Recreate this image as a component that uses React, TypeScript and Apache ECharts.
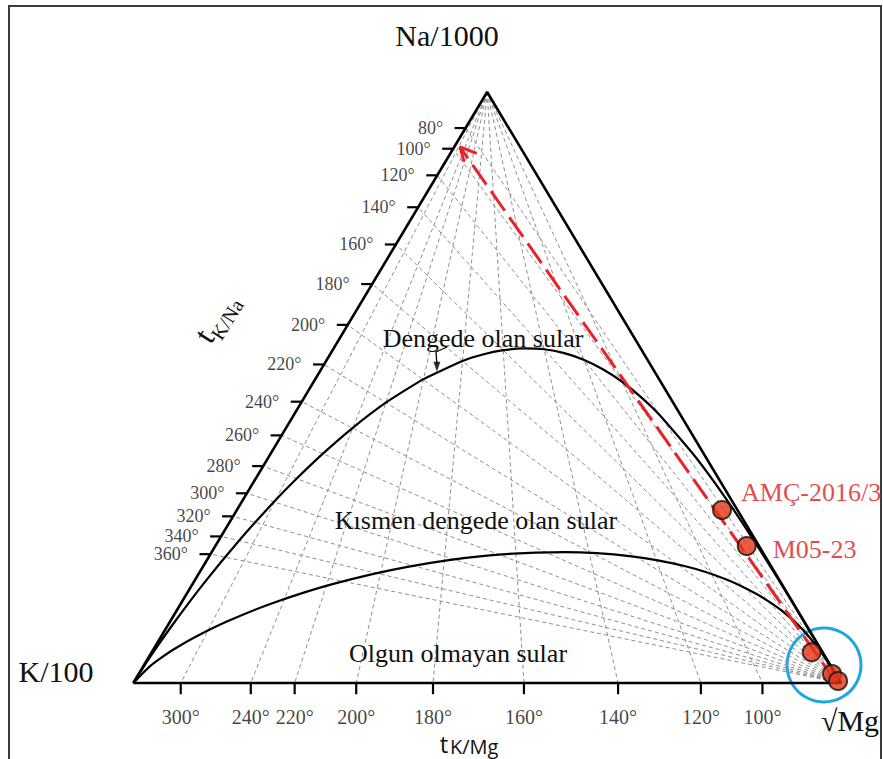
import React, { useEffect, useRef } from "react";
import * as echarts from "echarts";

// ---- data (diagram units: K=(0,0), √Mg=(100,0), Na=(50,100)) ----
const kNaTemps = [80, 100, 120, 140, 160, 180, 200, 220, 240, 260, 280, 300, 320, 340, 360];
// position of each tK/Na tick along the K -> Na edge (0 = K, 1 = Na)
const kNaEdge = [0.939, 0.904, 0.859, 0.805, 0.742, 0.675, 0.606, 0.539, 0.476, 0.419, 0.367, 0.321, 0.282, 0.248, 0.218];
const kMgTemps = [300, 240, 220, 200, 180, 160, 140, 120, 100];
// position of each tK/Mg tick along the K -> √Mg edge (0 = K, 1 = √Mg)
const kMgEdge = [0.067, 0.166, 0.228, 0.315, 0.4235, 0.552, 0.685, 0.802, 0.889];

const fullEqX = [100, 96.0, 92.15, 88.42, 84.11, 79.39, 74.4, 71.82, 69.17, 66.47, 63.71, 60.9, 58.05, 55.17, 52.28, 49.38, 46.52, 40.95, 35.73, 30.97, 26.75, 23.06, 19.89, 14.9, 9.96, 5.63, 2.45, 0];
const fullEqY = [0, 7.9, 15.58, 22.73, 30.57, 38.32, 45.3, 48.29, 50.89, 53.01, 54.66, 55.81, 56.47, 56.61, 56.31, 55.58, 54.49, 51.38, 47.47, 43.14, 38.77, 34.56, 30.67, 24.03, 16.85, 9.98, 4.54, 0];

const immatureX = [100, 97.85, 96.64, 94.6, 93.02, 90.86, 87.87, 83.72, 78.01, 70.41, 60.91, 50.0, 38.75, 28.4, 19.84, 13.38, 8.82, 5.74, 3.73, 2.41, 0];
const immatureY = [0, 4.09, 6.11, 9.01, 10.84, 12.93, 15.19, 17.57, 19.76, 21.43, 22.14, 21.55, 19.66, 16.82, 13.59, 10.48, 7.82, 5.7, 4.09, 2.9, 0];

const sampleNames = ["AMÇ-2016/3", "M05-23", "", "", ""];
const sampleX = [83.19, 86.68, 95.86, 98.73, 99.58];
const sampleY = [29.27, 23.18, 5.19, 1.52, 0.34];

// red trend arrow (start near √Mg, tip toward Na)
const arrowX = [99.29, 46.16];
const arrowY = [0.17, 90.69];
const arrowHeadX = [48.52, 46.16, 46.73];
const arrowHeadY = [89.63, 90.69, 88.21];

// small pointer from "Dengede olan sular" to the curve
const pointerX = [44.33, 42.77, 42.9];
const pointerY = [56.85, 56.01, 53.9];

const SERIF = '"Liberation Serif", "Times New Roman", serif';
const SANS = '"Open Sans", "Noto Sans", sans-serif';

const zip = (xs: number[], ys: number[]) => xs.map((x, i) => [x, ys[i]]);

function lineS(data: number[][], color: string, width: number, type: any, z = 2, smooth: any = false) {
  return {
    type: "line",
    data,
    symbol: "none",
    showSymbol: false,
    clip: false,
    silent: true,
    smooth,
    z,
    lineStyle: { color, width, type },
  };
}

export default function App() {
  const ref = useRef<HTMLDivElement>(null);
  useEffect(() => {
    if (!ref.current) return;
    const chart = echarts.init(ref.current, undefined, { renderer: "svg" });
    const series: any[] = [];
    const gridColor = "#8f8f8f";
    const dash = [4, 3];
    // tK/Na isotherms: from √Mg vertex to K–Na edge
    kNaEdge.forEach((f) => series.push(lineS([[100, 0], [50 * f, 100 * f]], gridColor, 1, dash, 1)));
    // tK/Mg isotherms: from Na apex to K–Mg edge
    kMgEdge.forEach((g) => series.push(lineS([[50, 100], [100 * g, 0]], gridColor, 1, dash, 1)));
    // triangle
    series.push(lineS([[0, 0], [50, 100], [100, 0], [0, 0]], "#000", 2.6, "solid", 3));
    // ticks
    kNaEdge.forEach((f) => series.push(lineS([[50 * f - 1.55, 100 * f], [50 * f, 100 * f]], "#000", 2.2, "solid", 3)));
    kMgEdge.forEach((g) => series.push(lineS([[100 * g, 0], [100 * g, -1.9]], "#000", 2.2, "solid", 3)));
    // curves
    series.push(lineS(zip(fullEqX, fullEqY), "#000", 2.2, "solid", 4, 0.15));
    series.push(lineS(zip(immatureX, immatureY), "#000", 2.2, "solid", 4, 0.25));
    // red dashed arrow
    series.push(lineS(zip(arrowX, arrowY), "#e8232a", 3, [24, 8], 6));
    series.push(lineS(zip(arrowHeadX, arrowHeadY), "#e8232a", 3, "solid", 6));
    // pointer
    series.push(lineS(zip(pointerX, pointerY), "#000", 1.3, "solid", 5));
    series.push({
      type: "scatter",
      data: [[pointerX[2], pointerY[2] - 0.4]],
      symbol: "triangle",
      symbolRotate: 180,
      symbolSize: [7, 10],
      itemStyle: { color: "#000" },
      silent: true,
      clip: false,
      z: 5,
    });
    // tick labels
    series.push({
      type: "scatter",
      data: kNaEdge.map((f, i) => ({ value: [50 * f - 1.55, 100 * f], name: kNaTemps[i] + "°" })),
      symbolSize: 1,
      itemStyle: { color: "transparent" },
      silent: true,
      clip: false,
      label: {
        show: true,
        position: "left",
        distance: 11,
        formatter: (p: any) => p.name,
        fontFamily: SERIF,
        fontSize: 18,
        lineHeight: 14,
        color: "#111",
      },
    });
    series.push({
      type: "scatter",
      data: kMgEdge.map((g, i) => ({ value: [100 * g, -1.9], name: kMgTemps[i] + "°" })),
      symbolSize: 1,
      itemStyle: { color: "transparent" },
      silent: true,
      clip: false,
      label: {
        show: true,
        position: "bottom",
        distance: 14,
        formatter: (p: any) => p.name,
        fontFamily: SERIF,
        fontSize: 20,
        lineHeight: 16,
        color: "#111",
      },
    });
    // samples
    const labelPlacement: any = {
      "AMÇ-2016/3": { distance: 9, offset: [0, -18] },
      "M05-23": { distance: 16, offset: [0, 3] },
    };
    series.push({
      type: "scatter",
      data: sampleX.map((x, i) => {
        const nm = sampleNames[i];
        const lp = labelPlacement[nm];
        return {
          value: [x, sampleY[i]],
          name: nm,
          label: nm
            ? {
                show: true,
                position: "right",
                formatter: nm,
                distance: lp.distance,
                offset: lp.offset,
                fontFamily: SERIF,
                fontSize: 26,
                color: "#e01818",
              }
            : { show: false },
        };
      }),
      symbolSize: 18,
      itemStyle: { color: "#e63514", borderColor: "#111", borderWidth: 2 },
      silent: true,
      clip: false,
      z: 10,
    });

    const txt = (text: string, x: number, y: number, size: number, opts: any = {}) => ({
      type: "text",
      x,
      y,
      silent: true,
      z: 20,
      style: {
        text,
        fontSize: size,
        fontFamily: opts.family || SERIF,
        fill: opts.fill || "#111",
        textAlign: opts.align || "center",
        align: opts.align || "center",
        textVerticalAlign: "middle",
        verticalAlign: "middle",
      },
    });

    chart.setOption({
      animation: false,
      backgroundColor: "#fff",
      grid: { left: 133.3, top: 92, width: 707.7, height: 591 },
      xAxis: { type: "value", min: 0, max: 100, show: false },
      yAxis: { type: "value", min: 0, max: 100, show: false },
      series,
      graphic: [
        {
          type: "rect",
          shape: { x: 9, y: 6, width: 872, height: 770 },
          style: { fill: "none", stroke: "#3a3a3a", lineWidth: 2 },
          silent: true,
          z: -1,
        },
        {
          type: "circle",
          shape: { cx: 824, cy: 665, r: 37 },
          style: { fill: "none", stroke: "#1ea6e2", lineWidth: 3 },
          silent: true,
          z: 0,
        },
        txt("Na/1000", 447, 35, 30),
        txt("K/100", 56, 671, 30),
        txt("√Mg", 850, 720, 30),
        txt("Dengede olan sular", 483, 338, 26),
        txt("Kısmen dengede olan sular", 476, 520, 26),
        txt("Olgun olmayan sular", 458, 653, 26),
        {
          type: "group",
          x: 215,
          y: 348,
          rotation: (58 * Math.PI) / 180,
          silent: true,
          children: [
            { type: "text", x: 0, y: 0, style: { text: "t", fontSize: 32, fontFamily: SERIF, fill: "#111", textAlign: "left", align: "left", textVerticalAlign: "bottom", verticalAlign: "bottom" } },
            { type: "text", x: 9, y: 5, style: { text: "K/Na", fontSize: 20, fontFamily: SERIF, fill: "#111", textAlign: "left", align: "left", textVerticalAlign: "bottom", verticalAlign: "bottom" } },
          ],
        },
        txt("t", 444, 743, 24, { family: SANS }),
        txt("K/Mg", 450, 746, 20, { family: SANS, align: "left" }),
      ],
    });
    return () => chart.dispose();
  }, []);
  return <div ref={ref} style={{ position: "fixed", left: 0, top: 0, width: 883, height: 759 }} />;
}
